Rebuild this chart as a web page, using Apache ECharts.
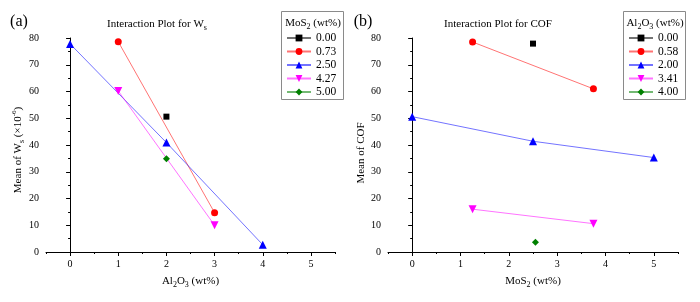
<!DOCTYPE html>
<html><head><meta charset="utf-8">
<script src="https://cdn.jsdelivr.net/npm/echarts@6/dist/echarts.min.js"></script>
<style>html,body{margin:0;padding:0;background:#fff}#c{width:700px;height:302px}</style>
</head><body><div id="c"></div>
<script>
// Panel (a): Interaction plot for Ws, grouped by MoS2 level
const wsLevels = ['0.00', '0.73', '2.50', '4.27', '5.00'];
const wsAl2O3 = [[2], [1, 3], [0, 2, 4], [1, 3], [2]];
const wsMean = [[50.6], [78.6, 14.7], [77.8, 40.9, 2.7], [60.2, 10.0], [34.9]];
// Panel (b): Interaction plot for COF, grouped by Al2O3 level
const cofLevels = ['0.00', '0.58', '2.00', '3.41', '4.00'];
const cofMoS2 = [[2.5], [1.25, 3.75], [0, 2.5, 5], [1.25, 3.75], [2.55]];
const cofMean = [[77.9], [78.5, 61.0], [50.6, 41.4, 35.3], [16.0, 10.6], [3.6]];
// tick values
const xMajorTicks = [0, 1, 2, 3, 4, 5];
const yTicks = [0, 10, 20, 30, 40, 50, 60, 70, 80];

const FONT = 'Liberation Serif';
const colors = ['#000000', '#ff0000', '#0000ff', '#ff00ff', '#008000'];
const symbols = ['rect', 'circle', 'triangle', 'triangle', 'diamond'];
const rotates = [0, 0, 0, 180, 0];
const sizes = [6, 7, 8, 8, 7];

const chart = echarts.init(document.getElementById('c'), null, {renderer: 'canvas'});

function makeSeries(levels, xs, ys, axisIdx) {
  return levels.map((name, i) => ({
    name: name,
    type: 'line',
    xAxisIndex: axisIdx,
    yAxisIndex: axisIdx,
    data: xs[i].map((x, j) => [x, ys[i][j]]),
    symbol: symbols[i],
    symbolRotate: rotates[i],
    symbolSize: sizes[i],
    itemStyle: {color: colors[i]},
    lineStyle: {color: colors[i], width: 1, opacity: 0.55},
    emphasis: {disabled: true},
    z: 3
  }));
}

function xMain(gridIndex) {
  return {
    type: 'value', gridIndex: gridIndex, min: -0.5, max: 5.5, position: 'bottom',
    axisLine: {show: true, lineStyle: {color: '#000', width: 1}},
    axisTick: {show: true, length: 4, customValues: xMajorTicks, lineStyle: {color: '#000'}},
    axisLabel: {show: true, customValues: xMajorTicks, fontFamily: FONT, fontSize: 10, color: '#000', margin: 7},
    splitLine: {show: false}
  };
}
function xMinor(gridIndex) {
  return {
    type: 'value', gridIndex: gridIndex, min: -0.5, max: 5.5, interval: 0.5, position: 'bottom',
    axisLine: {show: false},
    axisTick: {show: true, length: 2, lineStyle: {color: '#000'}},
    axisLabel: {show: false},
    splitLine: {show: false}
  };
}
function yAxis(gridIndex) {
  return {
    type: 'value', gridIndex: gridIndex, min: yTicks[0], max: yTicks[yTicks.length - 1], interval: 10,
    axisLine: {show: true, lineStyle: {color: '#000', width: 1}},
    axisTick: {show: true, length: 4, lineStyle: {color: '#000'}},
    minorTick: {show: true, splitNumber: 2, length: 2, lineStyle: {color: '#000'}},
    axisLabel: {fontFamily: FONT, fontSize: 10, color: '#000', margin: 7},
    splitLine: {show: false}
  };
}
function yHidden(gridIndex) {
  return {type: 'value', gridIndex: gridIndex, min: 0, max: 80, show: false};
}

const rich = {
  sub: {fontFamily: FONT, fontSize: 8, fill: '#000', verticalAlign: 'bottom', lineHeight: 9},
  sup: {fontFamily: FONT, fontSize: 7, fill: '#000', verticalAlign: 'top', lineHeight: 8}
};
function txt(x, y, text, size, rot) {
  return {
    type: 'text', x: x, y: y, rotation: rot || 0,
    style: {text: text, fontFamily: FONT, fontSize: size, fill: '#000', align: 'center', verticalAlign: 'middle',
      lineHeight: 15, rich: rich}
  };
}

const legendBase = {
  orient: 'vertical', top: 32, padding: 0, itemWidth: 24, itemHeight: 8.5, itemGap: 1.5,
  selectedMode: false,
  textStyle: {fontFamily: FONT, fontSize: 11.5, color: '#000'}
};

const gridA = {left: 46, top: 38, width: 289, height: 214};
const gridB = {left: 388, top: 38, width: 290, height: 214};

const option = {
  animation: false,
  backgroundColor: '#fff',
  grid: [gridA, gridB, Object.assign({}, gridA), Object.assign({}, gridB)],
  xAxis: [xMain(0), xMain(1), xMinor(2), xMinor(3)],
  yAxis: [yAxis(0), yAxis(1), yHidden(2), yHidden(3)],
  legend: [
    Object.assign({}, legendBase, {left: 286, data: wsLevels}),
    Object.assign({}, legendBase, {left: 628, data: cofLevels})
  ],
  series: [...makeSeries(wsLevels, wsAl2O3, wsMean, 0), ...makeSeries(cofLevels, cofMoS2, cofMean, 1)],
  graphic: [
    {type: 'rect', shape: {x: 281.5, y: 11.5, width: 62, height: 88}, style: {fill: 'none', stroke: '#8a8a8a', lineWidth: 1}},
    {type: 'rect', shape: {x: 623.5, y: 11.5, width: 62, height: 88}, style: {fill: 'none', stroke: '#8a8a8a', lineWidth: 1}},
    txt(19, 22, '(a)', 16),
    txt(363, 22, '(b)', 16),
    txt(157, 24, 'Interaction Plot for W{sub|s}', 11),
    txt(498, 24, 'Interaction Plot for COF', 11),
    txt(313, 23, 'MoS{sub|2} (wt%)', 11),
    txt(655, 23, 'Al{sub|2}O{sub|3} (wt%)', 11),
    txt(190.5, 281, 'Al{sub|2}O{sub|3} (wt%)', 11),
    txt(533, 281, 'MoS{sub|2} (wt%)', 11),
    txt(18, 150, 'Mean of W{sub|s} (×10{sup|-6})', 11, Math.PI / 2),
    txt(361, 153, 'Mean of COF', 11, Math.PI / 2)
  ]
};
chart.setOption(option);
</script>
</body></html>
